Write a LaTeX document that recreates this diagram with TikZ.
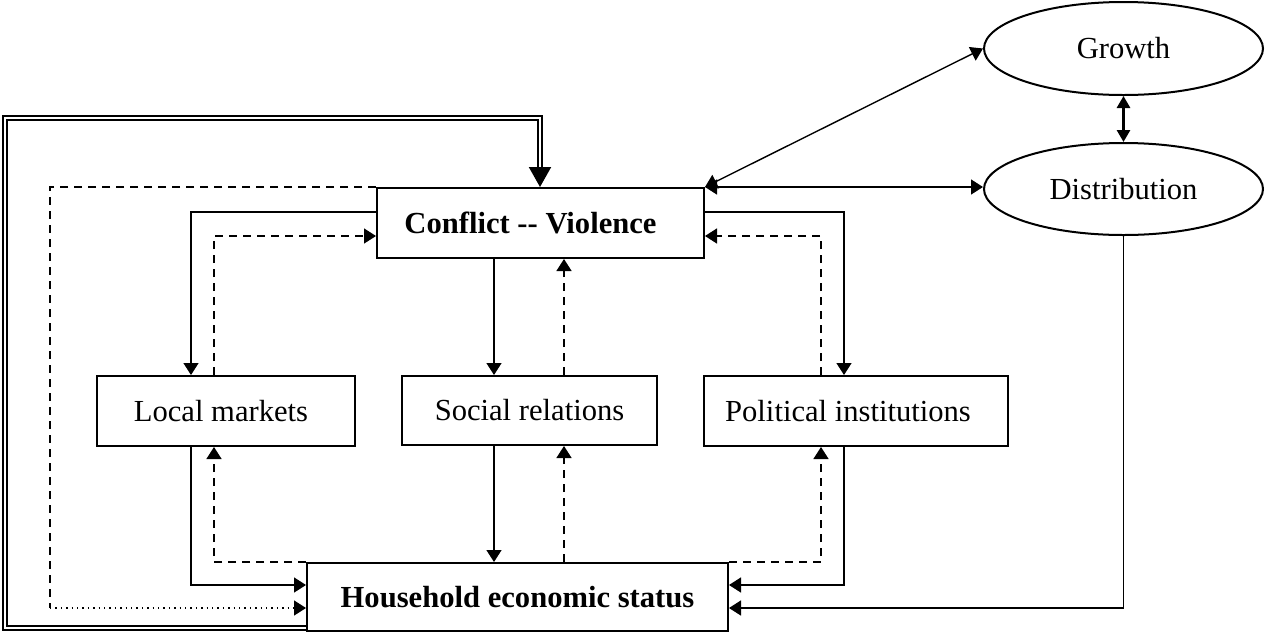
\documentclass[tikz,border=0pt]{standalone}
\usepackage{fontspec}
\setmainfont{Liberation Serif}
\usetikzlibrary{arrows.meta,shapes.geometric}
\begin{document}
\begin{tikzpicture}[x=0.5pt,y=-0.5pt,
  txt/.style={font=\fontsize{15.3}{18}\selectfont},
  box/.style={draw,line width=1pt,inner sep=0pt,txt},
  bbox/.style={box,font=\fontsize{15.3}{18}\selectfont\bfseries},
  ell/.style={draw,ellipse,line width=1pt,inner sep=0pt,txt,minimum width=139.5pt,minimum height=46.5pt},
  tip/.style={-{Triangle[length=6pt,width=7.5pt]}},
  bitip/.style={{Triangle[length=6pt,width=7.5pt]}-{Triangle[length=6pt,width=7.5pt]}},
  conn/.style={line width=0.7pt,tip},
  dashpat/.style={dash pattern=on 4pt off 3pt},
  dconn/.style={conn,dashpat},
]
\useasboundingbox (0,0) rectangle (1265,633);

% nodes
\node[bbox,minimum width=163.5pt,minimum height=35pt] (conf) at (540.5,223) {\hspace*{-10pt}Conflict {-}{-} Violence};
\node[box,minimum width=129pt,minimum height=35pt] (loc) at (226,411) {\hspace*{-5pt}Local markets};
\node[box,minimum width=127.5pt,minimum height=34.5pt] (soc) at (529.5,410.5) {Social relations};
\node[box,minimum width=152pt,minimum height=35pt] (pol) at (856,411) {\hspace*{-8pt}Political institutions};
\node[bbox,minimum width=210.5pt,minimum height=34pt] (hh) at (517.5,597) {Household economic status};
\node[ell] (gr) at (1123.5,48.5) {Growth};
\node[ell,minimum height=46pt] (dist) at (1123.5,189) {Distribution};

% local markets
\draw[conn] (conf.west |- 0,212) -| (191,0 |- loc.north);
\draw[dconn] (214,0 |- loc.north) |- (conf.west |- 0,236);
\draw[conn] (191,0 |- loc.south) |- (hh.west |- 0,585);
\draw[dconn] (hh.north west) -| (214,0 |- loc.south);

% social relations
\draw[conn] (494,0 |- conf.south) -- (494,0 |- soc.north);
\draw[dconn] (564,0 |- soc.north) -- (564,0 |- conf.south);
\draw[conn] (494,0 |- soc.south) -- (494,0 |- hh.north);
\draw[dconn] (564,0 |- hh.north) -- (564,0 |- soc.south);

% political institutions
\draw[conn] (conf.east |- 0,212) -| (844,0 |- pol.north);
\draw[dconn] (821,0 |- pol.north) |- (conf.east |- 0,236);
\draw[conn] (844,0 |- pol.south) |- (hh.east |- 0,585);
\draw[dconn] (hh.north east) -| (821,0 |- pol.south);

% growth / distribution
\draw[line width=0.7pt,bitip] (conf.north east) -- (gr.west);
\draw[line width=0.7pt,bitip] (conf.north east) -- (conf.north east -| dist.west);
\draw[line width=1.4pt,{Triangle[length=6pt,width=6.5pt]}-{Triangle[length=6pt,width=6.5pt]}] (gr.south) -- (dist.north);
\draw[conn] (dist.south) |- (hh.east |- 0,608);

% left dashed / dotted loop
\coordinate (dc) at (50,608);
\draw[line width=0.7pt,dashpat] (conf.north west) -| (dc);
\draw[conn,dotted] (dc) -- (hh.west |- dc);

% double feedback line
\coordinate (d1) at (5,628);
\coordinate (d2) at (5,118);
\coordinate (d3) at (540,118);
\draw[double,line width=1pt,double distance=1pt,-{Triangle[length=10pt,width=11pt]}]
  (hh.west |- d1) -- (d1) -- (d2) -- (d3) -- (d3 |- conf.north);
\end{tikzpicture}
\end{document}
